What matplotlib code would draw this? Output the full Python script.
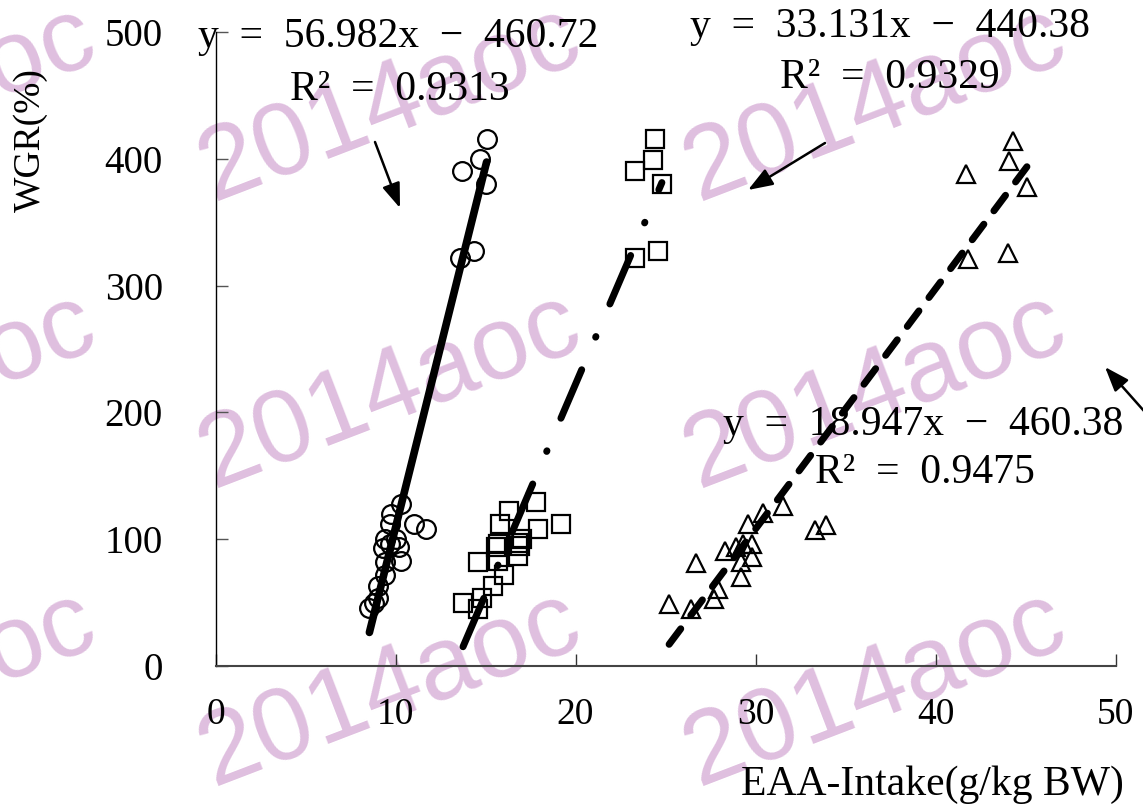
import numpy as np
import matplotlib
matplotlib.use('Agg')
import matplotlib.pyplot as plt

# data: EAA intake (g/kg BW) vs WGR (%)
circle_x = [15.06, 14.7, 13.7, 15.03, 14.35, 13.6,
            10.28, 9.76, 9.7, 11.0, 11.7, 9.44, 10.0, 9.7, 10.2, 9.3,
            10.3, 9.4, 9.4, 9.0, 9.0, 8.8, 8.55]
circle_y = [416, 400, 390, 380, 327, 322,
            128, 120, 112, 112, 108, 100, 100, 96, 94, 93,
            83, 82, 72, 63, 54, 50, 46]

square_x = [24.4, 24.3, 23.3, 24.8, 24.6, 23.3,
            17.8, 16.3, 15.8, 19.2, 17.9, 15.6, 15.7, 16.8, 16.9, 17.0,
            16.8, 14.6, 15.7, 16.0, 15.4, 14.8, 13.75, 14.6]
square_y = [416, 399, 390, 380, 327, 322,
            129, 122, 112, 112, 108, 94, 96, 97, 95, 100,
            87, 82, 83, 72, 63, 54, 50, 45]

tri_x = [44.3, 44.1, 41.7, 45.08, 44.0, 41.8,
         30.4, 31.5, 29.6, 33.9, 33.3, 29.8, 28.3, 28.9, 29.3, 29.8,
         29.2, 26.7, 29.2, 27.9, 27.7, 25.2, 26.4]
tri_y = [414, 398, 388, 378, 326, 321,
         121, 126, 112, 111, 107, 96, 91, 94, 96, 86,
         82, 81, 70, 61, 53, 49, 45]

# trend line coefficients as printed on the chart
slopes = [56.982, 33.131, 18.947]
intercepts = [-460.72, -440.38, -460.38]
eq_labels = ['y  =  56.982x  −  460.72', 'y  =  33.131x  −  440.38',
             'y  =  18.947x  −  460.38']
r2_labels = ['R²  =  0.9313', 'R²  =  0.9329', 'R²  =  0.9475']

x_ticks = [0, 10, 20, 30, 40, 50]
y_ticks = [0, 100, 200, 300, 400, 500]

W, H = 1143, 809


def fx(px):
    return px / W


def fy(py):
    return 1 - py / H


def main():
    plt.rcParams['lines.scale_dashes'] = False
    serif = 'Liberation Serif'

    fig = plt.figure(figsize=(W / 100, H / 100), dpi=100)
    ax = fig.add_axes([fx(215.5), fy(666), 900 / W, 634 / H])
    ax.patch.set_visible(False)

    # watermark behind everything
    for cx in [-95, 390, 875]:
        for cy in [105, 392, 690]:
            fig.text(fx(cx), fy(cy), '2014aoc', fontsize=75, color='#DFBFDF',
                     family='Liberation Sans', rotation=21, rotation_mode='anchor',
                     ha='center', va='center', zorder=-1)

    mk = dict(linestyle='none', markerfacecolor='none', markeredgecolor='black',
              markeredgewidth=1.6, zorder=4)
    ax.plot(circle_x, circle_y, marker='o', markersize=13.5, **mk)
    ax.plot(square_x, square_y, marker='s', markersize=13, **mk)
    ax.plot(tri_x, tri_y, marker='^', markersize=13, **mk)

    styles = [dict(linestyle='-', linewidth=5.5, solid_capstyle='round'),
              dict(linestyle=(0, (38, 25.5, 0.5, 25.5)), linewidth=5,
                   dash_capstyle='round'),
              dict(linestyle=(0, (14, 12)), linewidth=5,
                   dash_capstyle='round')]
    groups = [circle_x, square_x, tri_x]
    for xs, m, b, st in zip(groups, slopes, intercepts, styles):
        xx = np.array([min(xs), max(xs)])
        ax.plot(xx, m * xx + b, color='black', zorder=3, **st)

    ax.set_xlim(0, 50)
    ax.set_ylim(0, 500)
    ax.set_xticks(x_ticks)
    ax.set_yticks(y_ticks)
    ax.set_xticklabels([str(v) for v in x_ticks], family=serif, fontsize=27)
    ax.set_yticklabels([str(v) for v in y_ticks], family=serif, fontsize=28)
    ax.tick_params(axis='y', direction='in', length=8.6, width=1,
                   color='#555555', pad=38)
    ax.tick_params(axis='x', direction='in', length=8.6, width=1,
                   color='#333333', pad=23)
    ax.spines['top'].set_visible(False)
    ax.spines['right'].set_visible(False)
    ax.spines['left'].set_color('black')
    ax.spines['left'].set_linewidth(1)
    ax.spines['bottom'].set_color('#444444')
    ax.spines['bottom'].set_linewidth(1.5)

    fig.text(fx(31), fy(140), 'WGR(%)', rotation=90, family=serif,
             fontsize=27, ha='center', va='center')
    fig.text(fx(932), fy(785), 'EAA-Intake(g/kg BW)', family=serif,
             fontsize=30, ha='center', va='center')

    # equations, R² and arrows
    eq_pos = [(198, 37), (690, 27), (723, 425)]
    r2_pos = [(290, 90), (780, 78), (815, 473)]
    for (ex, ey), (rx, ry), e, r in zip(eq_pos, r2_pos, eq_labels, r2_labels):
        ax.text(fx(ex), fy(ey), e, transform=fig.transFigure, family=serif,
                fontsize=30, ha='left', va='center', zorder=1)
        ax.text(fx(rx), fy(ry), r, transform=fig.transFigure, family=serif,
                fontsize=30, ha='left', va='center', zorder=1)

    arrows = [((375, 142), (400, 208)), ((825, 143), (748, 190)),
              ((1152, 420), (1105, 367))]
    for tail, head in arrows:
        ax.annotate('', xy=(fx(head[0]), fy(head[1])),
                    xytext=(fx(tail[0]), fy(tail[1])),
                    xycoords='figure fraction', textcoords='figure fraction',
                    arrowprops=dict(arrowstyle='-|>,head_length=0.6,head_width=0.22',
                                    lw=1.8, color='black', mutation_scale=25,
                                    shrinkA=0, shrinkB=0))

    fig.savefig('out.png', dpi=100)


if __name__ == '__main__':
    main()
